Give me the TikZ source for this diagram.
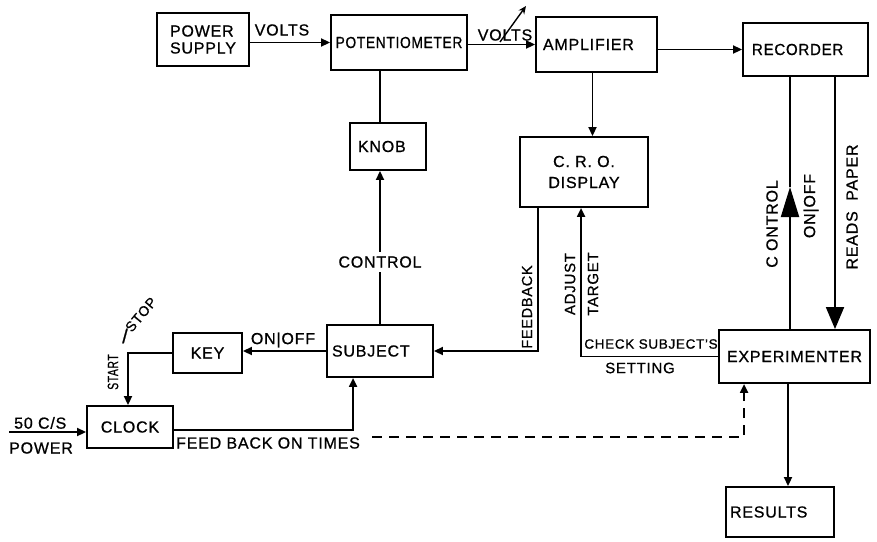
\documentclass[tikz,border=0pt]{standalone}
\usepackage{fontspec}
\setmainfont{Liberation Sans}[LetterSpace=5, FakeBold=0.8]
\usetikzlibrary{arrows.meta}
\newcommand{\myfs}[1]{\fontsize{#1}{#1}\selectfont}
\begin{document}
\begin{tikzpicture}[x=1pt,y=-1pt,
 box/.style={draw, line width=1.9pt, inner sep=2pt, font=\myfs{16}},
 lbl/.style={inner sep=1pt, font=\myfs{16}},
 ln/.style={line width=1.9pt},
 arr/.style={line width=1.9pt, -{Triangle[length=9pt,width=8pt]}},
 bigarr/.style={line width=1.9pt, -{Triangle[length=#1,width=18pt]}},
 bigarr/.default=30pt,
 dsh/.style={line width=1.9pt, dash pattern=on 10pt off 7pt, -{Triangle[length=9pt,width=8pt]}},
 varr/.style={line width=1.4pt, -{Stealth[length=8pt,width=7pt]}}
]
\useasboundingbox (0,0) rectangle (877,541);

% boxes
\node[box, minimum width=92pt, minimum height=53pt, align=left] (ps) at (203,39.5) {POWER\\[1pt]SUPPLY};
\node[box, minimum width=136pt, minimum height=55pt] (pot) at (399,42.5) {\scalebox{0.86}[1]{POTENTIOMETER}};
\node[box, minimum width=121pt, minimum height=55pt, text width=107pt, align=left] (amp) at (596.5,44.5) {AMPLIFIER};
\node[box, minimum width=125pt, minimum height=53pt, text width=107pt, align=left] (rec) at (805.5,49.5) {\scalebox{0.94}[1]{RECORDER}};
\node[box, minimum width=76pt, minimum height=47pt, text width=60pt, align=left] (knob) at (388,146.5) {KNOB};
\node[box, minimum width=128pt, minimum height=70pt, align=center] (cro) at (584,172) {C. R. O.\\[5pt]DISPLAY};
\node[box, minimum width=106pt, minimum height=52pt, text width=96pt, align=left] (subj) at (380,351) {SUBJECT};
\node[box, minimum width=69pt, minimum height=40pt] (key) at (207.5,353) {KEY};
\node[box, minimum width=86pt, minimum height=42pt] (clock) at (130,427) {CLOCK};
\node[box, minimum width=151pt, minimum height=53pt] (exp) at (794.5,356.5) {EXPERIMENTER};
\node[box, minimum width=108pt, minimum height=50pt, text width=100pt, align=left] (res) at (780,512) {RESULTS};

% top row
\draw[arr] (ps.east |- pot.west) -- (pot.west);
\node[lbl] (v1) at (282,30) {VOLTS};
\draw[arr] (pot.east |- amp.west) -- (amp.west);
\node[lbl] (v2) at (505,35) {VOLTS};
\coordinate (va) at (500,42);
\coordinate (vb) at (526,6);
\draw[varr] (va) -- (vb);
\draw[arr] (amp.east |- rec.west) -- (rec.west);

% potentiometer - knob - subject
\draw[ln] (pot.south -| subj.north) -- (knob.north -| subj.north);
\draw[arr] (subj.north) -- (subj.north |- knob.south);
\node[lbl, fill=white, inner sep=4pt] (ctl) at (380,262) {CONTROL};

% amplifier - CRO
\draw[arr] ([xshift=-4pt]amp.south) -- ([xshift=-4pt]amp.south |- cro.north);

% feedback
\draw[arr] ([xshift=19pt]cro.south west) |- (subj.east);
\node[lbl, rotate=90, font=\myfs{14.5}] (fb) at (527,307) {FEEDBACK};

% check subject's setting
\draw[arr] (exp.west) -| ([xshift=62pt]cro.south west);
\node[lbl, rotate=90, font=\myfs{15}] (adj) at (570,284) {ADJUST};
\node[lbl, rotate=90, font=\myfs{15}] (tgt) at (593,284) {TARGET};
\node[lbl, font=\myfs{13.5}] (chk) at (651,344) {CHECK SUBJECT'S};
\node[lbl, font=\myfs{15}] (set) at (640,368) {SETTING};

% subject - key - clock
\draw[arr] (subj.west) -- (subj.west -| key.east);
\node[lbl] (onoff1) at (283,340) {ON|OFF};
\draw[arr] (key.west) -| ([xshift=-2pt]clock.north);
\node[lbl, rotate=90, font=\myfs{15}, anchor=west, inner sep=0pt] (start) at (113,390) {\scalebox{0.7}[1]{START}};
\node[lbl, font=\myfs{20}, inner sep=0pt] (slash) at (125,336) {/};
\node[lbl, rotate=50, font=\myfs{14}, anchor=west, inner sep=0pt] (stop) at (128,330) {STOP};

% clock - subject
\draw[arr] (clock.east |- 0,430) -| ([xshift=27pt]subj.south west);
\node[lbl, anchor=west] (fbt) at (175,443) {FEED BACK ON TIMES};

% power input
\coordinate (pin) at (9,432);
\draw[arr] (pin) -- (pin -| clock.west);
\node[lbl, anchor=south west] (hz) at (13,430) {50 C/S};
\node[lbl, anchor=west] (pw) at (8,448) {POWER};

% dashed
\coordinate (d0) at (372,437);
\draw[dsh] (d0) -| ([xshift=26pt]exp.south west);

% experimenter - recorder
\coordinate (ca) at (790,187);
\draw[bigarr] (exp.north -| ca) -- (ca);
\draw[ln] (ca) -- (rec.south -| ca);
\node[lbl, rotate=90] (ctl2) at (772,224) {C ONTROL};
\node[lbl, rotate=90] (onoff2) at (811,206) {ON|OFF};
\coordinate (ra) at (835,300);
\draw[bigarr=22pt] (rec.south -| ra) -- (exp.north -| ra);
\node[lbl, rotate=90] (rp) at (852,207) {READS\ \ PAPER};

% experimenter - results
\draw[arr] (exp.south -| 788,0) -- (res.north -| 788,0);
\end{tikzpicture}
\end{document}
